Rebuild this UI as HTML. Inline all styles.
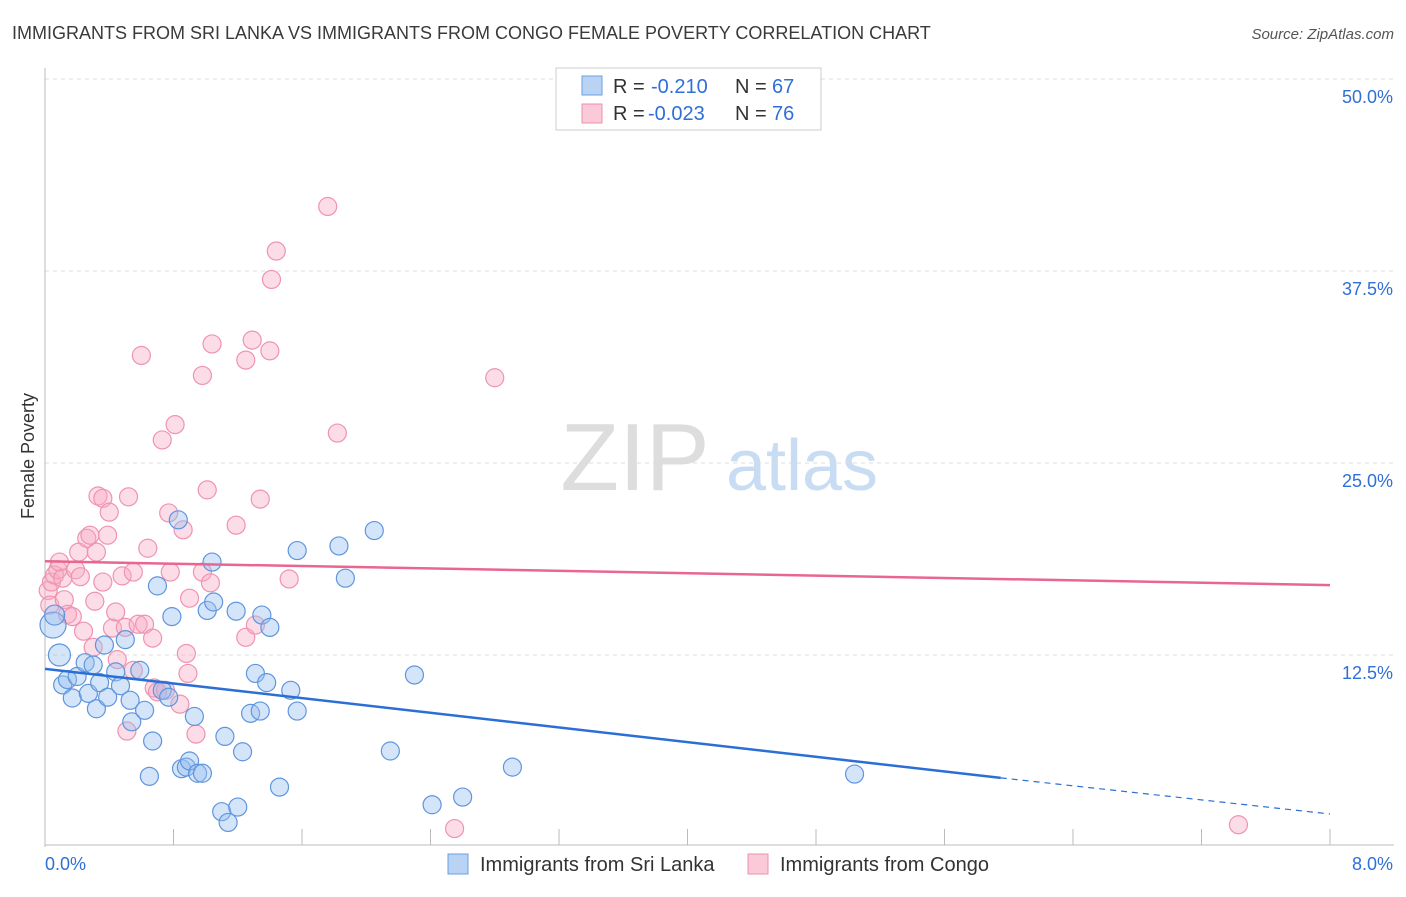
<!DOCTYPE html>
<html><head><meta charset="utf-8"><style>
body{margin:0;background:#fff;font-family:"Liberation Sans",sans-serif;}
svg text{font-family:"Liberation Sans",sans-serif;}
</style></head><body>
<svg id="chart" width="1406" height="892" xmlns="http://www.w3.org/2000/svg">
<text x="12" y="39" font-size="18" fill="#3a3a3a">IMMIGRANTS FROM SRI LANKA VS IMMIGRANTS FROM CONGO FEMALE POVERTY CORRELATION CHART</text>
<text x="1394" y="39" font-size="15" fill="#555" font-style="italic" text-anchor="end">Source: ZipAtlas.com</text>
<text x="34" y="456" font-size="18" fill="#333" text-anchor="middle" transform="rotate(-90 34 456)">Female Poverty</text>
<g><text x="635" y="490" font-size="96" font-family="Liberation Serif" fill="#ddd" text-anchor="middle">ZIP</text><text x="802" y="490" font-size="72" fill="#c8dcf3" text-anchor="middle">atlas</text></g>
<g id="grid"></g><g id="axes"></g><g id="pts"></g><g id="lines"></g>
<g>
<rect x="556" y="68" width="265" height="62" fill="#fff" stroke="#ccc"/>
<rect x="582" y="76" width="20" height="19" fill="#b9d3f5" stroke="#6d9fe0"/>
<rect x="582" y="104" width="20" height="19" fill="#fbcad8" stroke="#ee8fab"/>
<text x="613" y="93" font-size="20" fill="#333">R =</text><text x="651" y="93" font-size="20" fill="#2f6fd6">-0.210</text>
<text x="735" y="93" font-size="20" fill="#333">N =</text><text x="772" y="93" font-size="20" fill="#2f6fd6">67</text>
<text x="613" y="120" font-size="20" fill="#333">R =</text><text x="648" y="120" font-size="20" fill="#2f6fd6">-0.023</text>
<text x="735" y="120" font-size="20" fill="#333">N =</text><text x="772" y="120" font-size="20" fill="#2f6fd6">76</text>
</g>
<g>
<rect x="448" y="854" width="20" height="20" fill="#b9d3f5" stroke="#6d9fe0"/>
<text x="480" y="871" font-size="20" fill="#333">Immigrants from Sri Lanka</text>
<rect x="748" y="854" width="20" height="20" fill="#fbcad8" stroke="#ee8fab"/>
<text x="780" y="871" font-size="20" fill="#333">Immigrants from Congo</text>
</g>
</svg>
<script>
const yTicks=[12.5,25,37.5,50];
const yTickLabels=["12.5%","25.0%","37.5%","50.0%"];
const xTickLabels=["0.0%","8.0%"];
const blueX=[0.05,0.06,0.09,0.11,0.14,0.17,0.2,0.25,0.27,0.3,0.32,0.34,0.37,0.39,0.44,0.47,0.5,0.53,0.54,0.59,0.62,0.65,0.67,0.7,0.73,0.77,0.79,0.83,0.85,0.88,0.9,0.93,0.95,0.98,1.01,1.04,1.05,1.1,1.12,1.14,1.19,1.2,1.23,1.28,1.31,1.34,1.35,1.38,1.4,1.46,1.53,1.57,1.57,1.83,1.87,2.05,2.15,2.3,2.41,2.6,2.91,5.04];
const blueY=[14.45,15.1,12.5,10.55,10.9,9.7,11.1,12.0,10.0,11.85,9.0,10.7,13.15,9.75,11.4,10.5,13.5,9.55,8.15,11.5,8.9,4.6,6.9,17.0,10.2,9.75,15.0,21.3,5.1,5.2,5.6,8.5,4.8,4.8,15.4,18.55,15.95,2.3,7.2,1.6,15.35,2.6,6.2,8.7,11.3,8.85,15.1,10.7,14.3,3.9,10.2,8.85,19.3,19.6,17.5,20.6,6.25,11.2,2.75,3.25,5.2,4.75];
const blueR=[13,10,11,9,9,9,9,9,9,9,9,9,9,9,9,9,9,9,9,9,9,9,9,9,9,9,9,9,9,9,9,9,9,9,9,9,9,9,9,9,9,9,9,9,9,9,9,9,9,9,9,9,9,9,9,9,9,9,9,9,9,9];
const pinkX=[0.02,0.03,0.04,0.06,0.08,0.09,0.11,0.12,0.14,0.17,0.19,0.21,0.22,0.24,0.26,0.28,0.3,0.31,0.32,0.33,0.36,0.36,0.39,0.4,0.42,0.44,0.45,0.48,0.5,0.51,0.52,0.55,0.55,0.58,0.6,0.62,0.64,0.67,0.68,0.7,0.73,0.75,0.77,0.78,0.81,0.84,0.86,0.88,0.89,0.9,0.94,0.98,0.98,1.01,1.03,1.04,1.19,1.25,1.25,1.29,1.31,1.34,1.4,1.41,1.44,1.52,1.76,1.82,2.55,2.8,7.43];
const pinkY=[16.7,15.75,17.25,17.7,18.05,18.55,17.5,16.1,15.15,15.0,18.05,19.2,17.6,14.05,20.1,20.3,13.0,16.0,19.2,22.85,17.25,22.7,20.3,21.8,14.25,15.3,12.2,17.65,14.3,7.55,22.8,11.5,17.9,14.5,32.0,14.5,19.45,13.6,10.35,10.1,26.5,10.2,21.75,17.9,27.5,9.3,20.65,12.6,11.3,16.2,7.35,30.7,17.9,23.25,17.2,32.75,20.95,31.7,13.65,33.0,14.45,22.65,32.3,36.95,38.8,17.45,41.7,26.95,1.2,30.55,1.45];
const blueTrend=[11.6,4.5,5.95,2.15];
const pinkTrend=[18.6,17.05];
const X0=45,X1=1330,Y0=847,PX=(X1-X0)/8,PY=192/12.5;
const sx=v=>X0+v*PX, sy=v=>Y0-v*PY;
const NS="http://www.w3.org/2000/svg";
function mk(t,a,p){const e=document.createElementNS(NS,t);for(const k in a)e.setAttribute(k,a[k]);p.appendChild(e);return e;}
const grid=document.getElementById('grid'),axes=document.getElementById('axes'),pts=document.getElementById('pts'),lines=document.getElementById('lines');
yTicks.forEach((v,i)=>{
 const l=mk('line',{x1:X0,x2:1394,y1:sy(v),y2:sy(v),stroke:'#ddd','stroke-dasharray':'4,4'},grid);
 
 
 const t=mk('text',{x:1393,y:sy(v)+24,'font-size':18,fill:'#2f6fd6','text-anchor':'end'},axes);
 t.textContent=yTickLabels[i];
 
 
});
const ax=mk('line',{x1:X0,x2:X0,y1:68,y2:Y0,stroke:'#bbb'},axes);


const bx=mk('line',{x1:X0,x2:1394,y1:845,y2:845,stroke:'#bbb'},axes);


for(let i=1;i<=10;i++){const t=mk('line',{x1:sx(i*0.8),x2:sx(i*0.8),y1:829,y2:845,stroke:'#bbb'},axes);
 
 }
[[0,45,'start'],[8,1393,'end']].forEach((d,i)=>{const t=mk('text',{x:d[1],y:870,'font-size':18,fill:'#2f6fd6','text-anchor':d[2]},axes);t.textContent=xTickLabels[i];
 
 });
pinkX.forEach((x,i)=>{const c=mk('circle',{cx:sx(x),cy:sy(pinkY[i]),r:9,fill:'rgba(248,170,195,0.4)',stroke:'#ef93b0','stroke-width':1.2},pts);
 
 });
blueX.forEach((x,i)=>{const c=mk('circle',{cx:sx(x),cy:sy(blueY[i]),r:blueR[i],fill:'rgba(150,190,240,0.4)',stroke:'#5f95dd','stroke-width':1.2},pts);
 
 });
const bt=mk('line',{x1:sx(0),y1:sy(blueTrend[0]),x2:sx(blueTrend[2]),y2:sy(blueTrend[1]),stroke:'#2b6fd6','stroke-width':2.5},lines);


const bd=mk('line',{x1:sx(blueTrend[2]),y1:sy(blueTrend[1]),x2:sx(8),y2:sy(blueTrend[3]),stroke:'#2b6fd6','stroke-width':1.2,'stroke-dasharray':'6,5'},lines);


const pt=mk('line',{x1:sx(0),y1:sy(pinkTrend[0]),x2:sx(8),y2:sy(pinkTrend[1]),stroke:'#e8668f','stroke-width':2.5},lines);


</script>
</body></html>
